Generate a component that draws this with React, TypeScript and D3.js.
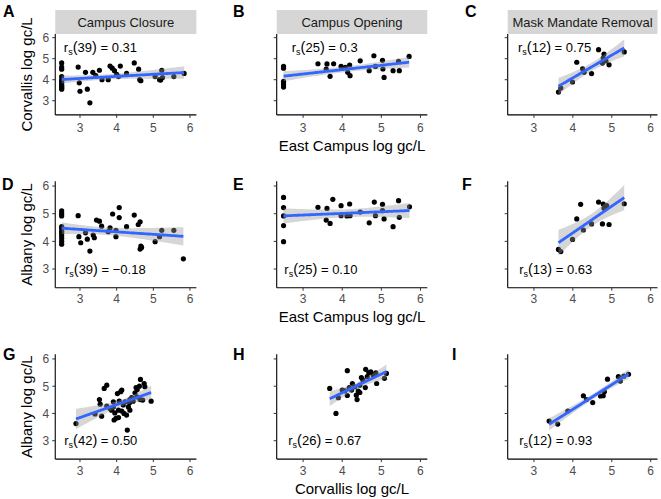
import React from "react";
import * as d3 from "d3";

// ---------- data ----------
const xTicks = [3, 4, 5, 6];
const yTicks = [3, 4, 5, 6];
const stripLabels = ["Campus Closure", "Campus Opening", "Mask Mandate Removal"];
const panelLetters = ["A", "B", "C", "D", "E", "F", "G", "H", "I"];
const yTitles = ["Corvallis log gc/L", "Albany log gc/L", "Albany log gc/L"];
const xTitles = ["East Campus log gc/L", "East Campus log gc/L", "Corvallis log gc/L"];
const corrDf = [39, 25, 12, 39, 25, 13, 42, 26, 12];
const corrR = ["0.31", "0.3", "0.75", "\u22120.18", "0.10", "0.63", "0.50", "0.67", "0.93"];

// A: East Campus vs Corvallis, Campus Closure
const aX = [2.5, 2.5, 2.5, 2.5, 2.5, 2.5, 2.5, 2.5, 2.5, 2.95, 2.98, 3.0, 3.15, 3.2, 3.27, 3.35, 3.43, 3.53, 3.6, 3.77, 3.82, 3.88, 3.94, 4.0, 4.05, 4.1, 4.27, 4.48, 4.6, 4.63, 4.66, 5.05, 5.17, 5.23, 5.25, 5.56, 5.84, 5.2, 2.5, 2.5, 2.5];
const aY = [4.8, 4.6, 4.5, 4.15, 4.0, 3.85, 3.7, 3.6, 3.55, 4.6, 3.85, 3.45, 4.35, 3.55, 2.9, 4.35, 4.2, 4.45, 4.0, 4.0, 4.65, 4.55, 4.43, 4.25, 4.15, 4.65, 4.3, 4.8, 4.5, 4.0, 3.95, 4.15, 4.0, 4.45, 4.1, 4.15, 4.3, 3.98, 3.75, 3.65, 3.9];
// B: East Campus vs Corvallis, Campus Opening
const bX = [2.5, 2.5, 2.5, 2.5, 2.5, 2.5, 3.38, 3.61, 3.59, 3.69, 3.78, 3.97, 4.08, 4.14, 4.19, 4.2, 4.46, 4.69, 4.81, 4.85, 5.03, 5.04, 5.07, 5.3, 5.44, 5.46, 5.71];
const bY = [4.63, 4.55, 3.92, 3.84, 3.76, 3.65, 4.76, 4.75, 4.5, 4.16, 4.76, 4.63, 4.59, 4.35, 4.7, 4.19, 4.9, 4.43, 5.14, 4.63, 4.92, 4.51, 4.11, 4.43, 4.87, 4.43, 5.11];
// C: East Campus vs Corvallis, Mask Mandate Removal
const cX = [3.63, 3.69, 3.99, 4.1, 4.25, 4.29, 4.48, 4.66, 4.76, 4.8, 4.85, 4.93, 5.32, 4.78];
const cY = [3.41, 3.6, 3.89, 4.83, 4.52, 4.35, 4.29, 5.43, 4.79, 5.22, 4.9, 4.71, 5.32, 5.03];
// D: East Campus vs Albany, Campus Closure
const dX = [2.5, 2.5, 2.5, 2.5, 2.5, 2.5, 2.5, 2.5, 2.5, 2.5, 2.5, 2.95, 2.97, 3.02, 3.15, 3.2, 3.27, 3.36, 3.39, 3.45, 3.53, 3.59, 3.77, 3.82, 3.89, 3.98, 4.07, 4.07, 4.27, 4.48, 4.59, 4.64, 4.66, 4.64, 4.68, 5.05, 5.17, 5.23, 5.56, 5.82, 3.98];
const dY = [5.1, 5.0, 4.92, 4.53, 4.47, 4.37, 4.29, 4.2, 4.11, 4.0, 3.9, 4.93, 4.17, 3.95, 4.31, 4.08, 3.65, 4.23, 4.13, 4.77, 4.73, 4.55, 4.35, 4.49, 4.99, 4.17, 5.22, 4.86, 4.53, 4.95, 4.61, 4.71, 3.83, 3.72, 3.78, 3.99, 4.17, 4.4, 4.4, 3.37, 4.4];
// E: East Campus vs Albany, Campus Opening
const eX = [2.5, 2.5, 2.5, 2.5, 2.5, 3.38, 3.61, 3.59, 3.69, 3.76, 3.97, 3.97, 4.12, 4.19, 4.2, 4.46, 4.69, 4.82, 4.85, 5.03, 5.03, 5.07, 5.3, 5.44, 5.46, 5.72, 4.15];
const eY = [5.59, 5.22, 4.92, 4.57, 3.99, 5.23, 5.19, 4.77, 4.65, 5.52, 5.29, 4.93, 4.92, 5.35, 4.93, 5.06, 4.67, 5.42, 4.93, 5.34, 5.11, 4.81, 4.53, 5.47, 4.87, 5.25, 4.95];
// F: East Campus vs Albany, Mask Mandate Removal
const fX = [3.63, 3.69, 3.99, 4.1, 4.2, 4.27, 4.48, 4.66, 4.76, 4.78, 4.83, 4.87, 4.93, 5.32, 4.8];
const fY = [3.71, 3.63, 4.07, 4.81, 5.34, 4.41, 4.63, 5.42, 4.63, 5.35, 5.22, 5.29, 4.61, 5.36, 5.2];
// G: Corvallis vs Albany, Campus Closure
const gX = [2.89, 3.41, 3.53, 3.55, 3.59, 3.66, 3.73, 3.82, 3.86, 3.91, 3.93, 3.98, 4.02, 4.05, 4.05, 4.07, 4.11, 4.14, 4.14, 4.18, 4.2, 4.29, 4.32, 4.35, 4.36, 4.41, 4.45, 4.5, 4.53, 4.56, 4.62, 4.64, 4.65, 4.71, 4.75, 4.77, 4.94, 3.91, 3.95, 4.36, 3.73, 4.23, 4.55, 4.27];
const gY = [3.63, 3.98, 4.51, 4.34, 3.9, 4.92, 5.04, 4.18, 4.12, 4.24, 3.76, 3.82, 4.73, 3.85, 4.12, 4.45, 4.8, 4.86, 4.09, 4.31, 4.0, 3.39, 4.24, 4.39, 4.51, 4.58, 4.45, 4.76, 4.95, 4.88, 5.0, 4.51, 5.25, 4.49, 5.1, 4.98, 4.45, 4.43, 4.02, 4.12, 4.27, 4.43, 4.61, 3.94];
// H: Corvallis vs Albany, Campus Opening
const hX = [3.68, 3.84, 3.9, 4.07, 4.13, 4.13, 4.18, 4.24, 4.32, 4.36, 4.38, 4.41, 4.45, 4.45, 4.49, 4.53, 4.59, 4.6, 4.64, 4.68, 4.73, 4.79, 4.86, 4.88, 5.08, 5.13, 4.0, 4.26];
const hY = [4.92, 4.0, 4.58, 4.83, 5.57, 4.66, 4.95, 4.86, 4.98, 4.67, 4.51, 4.82, 4.77, 5.04, 5.32, 5.22, 4.95, 5.62, 5.35, 5.5, 5.53, 5.41, 5.49, 5.1, 5.29, 5.47, 4.86, 5.1];
// I: Corvallis vs Albany, Mask Mandate Removal
const iX = [3.39, 3.61, 3.87, 4.27, 4.35, 4.51, 4.71, 4.78, 4.81, 4.89, 5.17, 5.22, 5.31, 5.43];
const iY = [3.72, 3.61, 4.09, 4.65, 4.51, 4.4, 4.64, 4.65, 4.8, 5.26, 5.35, 5.19, 5.37, 5.44];

const panelX = [aX, bX, cX, dX, eX, fX, gX, hX, iX];
const panelY = [aY, bY, cY, dY, eY, fY, gY, hY, iY];

// ---------- layout ----------
const W = 661;
const H = 499;
const DOMAIN: [number, number] = [2.325, 6.175];
const colRange: [number, number][] = [[55.25, 196.4], [276.7, 427.3], [507.7, 657.5]];
const rowRange: [number, number][] = [[34.0, 114.9], [181.2, 287.7], [354.2, 459.1]];
const letterPos = [[3, 17], [233, 17], [465, 17], [2, 190], [233, 190], [462, 190], [3, 360], [233, 360], [452, 360]];
const labelAnchor = [[2.56, 5.52], [2.71, 5.52], [2.59, 5.52], [2.59, 3.0], [2.52, 3.0], [2.62, 3.0], [2.57, 3.0], [2.62, 3.0], [2.62, 3.0]];
const tickLabelOffset = [17, 15.3, 16];
const xTitleBase = [151, 321.5, 493.5];
const FONT = "'Liberation Sans', Arial, Helvetica, sans-serif";

function tQuant(df: number) {
  const z = 1.959964;
  const z3 = z ** 3, z5 = z ** 5, z7 = z ** 7;
  return z + (z3 + z) / (4 * df) + (5 * z5 + 16 * z3 + 3 * z) / (96 * df * df) +
    (3 * z7 + 19 * z5 + 17 * z3 - 15 * z) / (384 * df ** 3);
}

function lmFit(xs: number[], ys: number[]) {
  const n = xs.length;
  const mx = d3.mean(xs)!;
  const my = d3.mean(ys)!;
  let sxx = 0, sxy = 0;
  for (let i = 0; i < n; i++) {
    sxx += (xs[i] - mx) ** 2;
    sxy += (xs[i] - mx) * (ys[i] - my);
  }
  const b = sxy / sxx;
  const a = my - b * mx;
  let sse = 0;
  for (let i = 0; i < n; i++) sse += (ys[i] - a - b * xs[i]) ** 2;
  const s = Math.sqrt(sse / (n - 2));
  const t = tQuant(n - 2);
  const [x0, x1] = d3.extent(xs) as [number, number];
  return d3.range(81).map((i) => {
    const x = x0 + ((x1 - x0) * i) / 80;
    const y = a + b * x;
    const se = s * Math.sqrt(1 / n + (x - mx) ** 2 / sxx);
    return { x, y, lo: y - t * se, hi: y + t * se };
  });
}

function Panel({ idx }: { idx: number }) {
  const col = idx % 3;
  const row = Math.floor(idx / 3);
  const xs = d3.scaleLinear().domain(DOMAIN).range(colRange[col]);
  const ys = d3.scaleLinear().domain(DOMAIN).range([rowRange[row][1], rowRange[row][0]]);
  const X = panelX[idx];
  const Y = panelY[idx];
  const fit = lmFit(X, Y);
  const area = d3.area<any>().x((d) => xs(d.x)).y0((d) => ys(d.lo)).y1((d) => ys(d.hi));
  const line = d3.line<any>().x((d) => xs(d.x)).y((d) => ys(d.y));
  const [l, r] = colRange[col];
  const [top, bot] = rowRange[row];
  const [lx, ly] = labelAnchor[idx];
  return (
    <g>
      {row === 0 && (
        <g>
          <rect x={l} y={10} width={r - l} height={top - 10} fill="#d6d6d6" />
          <text x={(l + r) / 2} y={(10 + top) / 2} dy="0.36em" textAnchor="middle" fontSize={13} fill="#1a1a1a">
            {stripLabels[col]}
          </text>
        </g>
      )}
      {X.map((x, i) => (
        <circle key={i} cx={xs(x)} cy={ys(Y[i])} r={2.6} fill="#000" />
      ))}
      <path d={area(fit)!} fill="#999999" fillOpacity={0.4} />
      <path d={line(fit)!} fill="none" stroke="#3366FF" strokeWidth={2.8} />
      {/* axes */}
      <line x1={l} x2={l} y1={top} y2={bot} stroke="#000" strokeWidth={1.1} />
      <line x1={l} x2={r} y1={bot} y2={bot} stroke="#000" strokeWidth={1.1} />
      {xTicks.map((t) => (
        <g key={"x" + t}>
          <line x1={xs(t)} x2={xs(t)} y1={bot} y2={bot + 3} stroke="#333" strokeWidth={1} />
          <text x={xs(t)} y={bot + tickLabelOffset[row]} textAnchor="middle" fontSize={12} fill="#4d4d4d">{t}</text>
        </g>
      ))}
      {yTicks.map((t) => (
        <g key={"y" + t}>
          <line x1={l - 3} x2={l} y1={ys(t)} y2={ys(t)} stroke="#333" strokeWidth={1} />
          {col === 0 && (
            <text x={l - 6} y={ys(t)} dy="0.36em" textAnchor="end" fontSize={12} fill="#4d4d4d">{t}</text>
          )}
        </g>
      ))}
      <text x={xs(lx)} y={ys(ly)} dy="0.35em" fontSize={13} fill="#000">
        r<tspan fontSize={9} dy="3">s</tspan>
        <tspan dy="-3" fontSize={14.5}>(</tspan>
        <tspan>{corrDf[idx]}</tspan>
        <tspan fontSize={14.5}>)</tspan>
        <tspan>{" = " + corrR[idx]}</tspan>
      </text>
      {col === 0 && (
        <text
          transform={`translate(${32},${(top + bot) / 2}) rotate(-90)`}
          textAnchor="middle"
          fontSize={15}
          fill="#000"
        >
          {yTitles[row]}
        </text>
      )}
      {col === 1 && (
        <text x={(l + r) / 2} y={xTitleBase[row]} textAnchor="middle" fontSize={15} fill="#000">
          {xTitles[row]}
        </text>
      )}
      <text x={letterPos[idx][0]} y={letterPos[idx][1]} fontSize={16} fontWeight="bold" fill="#000">
        {panelLetters[idx]}
      </text>
    </g>
  );
}

export default function App() {
  return (
    <svg
      width={W}
      height={H}
      style={{ position: "absolute", left: 0, top: 0, fontFamily: FONT }}
      xmlns="http://www.w3.org/2000/svg"
    >
      <rect x={0} y={0} width={W} height={H} fill="#fff" />
      {panelLetters.map((_, i) => (
        <Panel key={i} idx={i} />
      ))}
    </svg>
  );
}
